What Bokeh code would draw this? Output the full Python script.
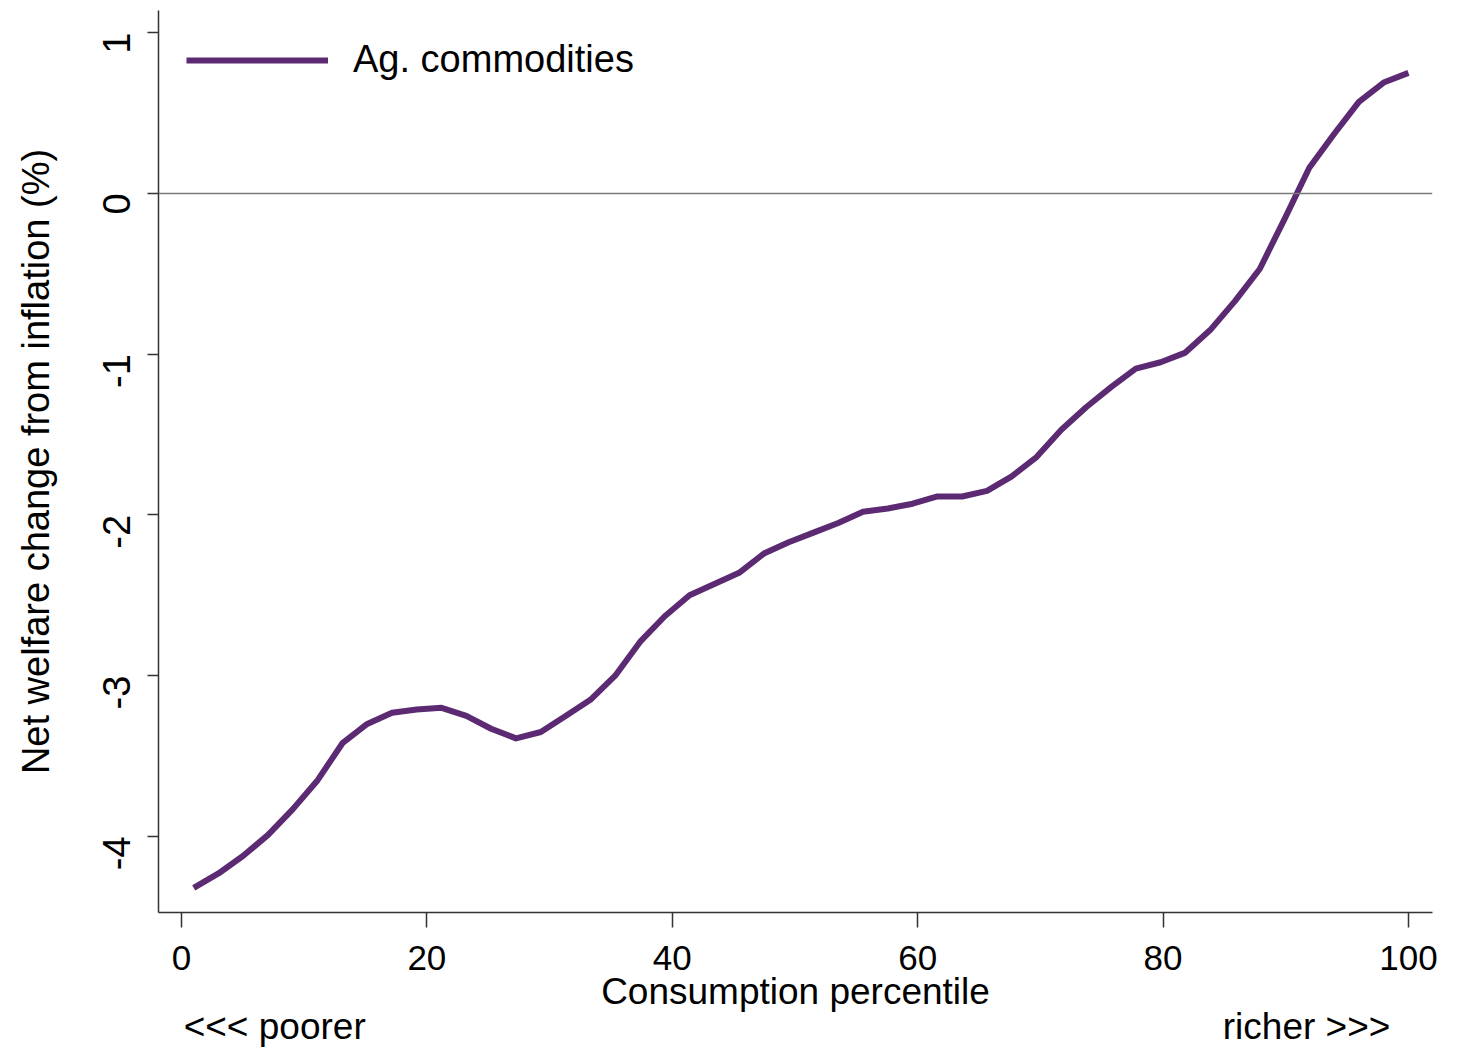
import math
from bokeh.plotting import figure
from bokeh.models import Span, FixedTicker, Legend, LinearAxis
from bokeh.embed import file_html
from bokeh.resources import INLINE

# Net welfare change by consumption percentile (50 evenly spaced bins)
percentile = [1.00, 3.02, 5.04, 7.06, 9.08, 11.10, 13.12, 15.14, 17.16, 19.18,
              21.20, 23.22, 25.24, 27.27, 29.29, 31.31, 33.33, 35.35, 37.37, 39.39,
              41.41, 43.43, 45.45, 47.47, 49.49, 51.51, 53.53, 55.55, 57.57, 59.59,
              61.61, 63.63, 65.65, 67.67, 69.69, 71.71, 73.73, 75.76, 77.78, 79.80,
              81.82, 83.84, 85.86, 87.88, 89.90, 91.92, 93.94, 95.96, 97.98, 100.00]
welfare_change = [-4.32, -4.23, -4.12, -3.99, -3.83, -3.65, -3.42, -3.30, -3.23, -3.21,
                  -3.20, -3.25, -3.33, -3.39, -3.35, -3.25, -3.15, -3.00, -2.79, -2.63,
                  -2.50, -2.43, -2.36, -2.24, -2.17, -2.11, -2.05, -1.98, -1.96, -1.93,
                  -1.885, -1.885, -1.85, -1.76, -1.64, -1.47, -1.33, -1.205, -1.09, -1.05,
                  -0.99, -0.85, -0.67, -0.47, -0.16, 0.16, 0.37, 0.57, 0.69, 0.75]
x_ticks = [0, 20, 40, 60, 80, 100]
y_ticks = [-4, -3, -2, -1, 0, 1]
direction_labels = ["<<< poorer", "richer >>>"]
direction_at = [7.6, 91.7]

FONT = "Liberation Sans"
PURPLE = "#5c2a72"
AXIS = "#333333"

p = figure(width=1463, height=1049, output_backend="svg", toolbar_location=None,
           x_range=(-1.87, 101.96), y_range=(-4.473, 1.138),
           min_border_left=158, min_border_right=31, min_border_top=10, min_border_bottom=137)
p.outline_line_color = None
p.xgrid.grid_line_color = None
p.ygrid.grid_line_color = None
p.background_fill_color = "white"
p.border_fill_color = "white"

# zero reference line
p.add_layout(Span(location=0, dimension="width", line_color="#7a7a7a", line_width=1.5))

r = p.line(percentile, welfare_change, line_width=6, line_color=PURPLE, line_join="round")

legend = Legend(items=[("Ag. commodities", [r])], location="top_left")
legend.border_line_color = None
legend.background_fill_alpha = 0
legend.glyph_width = 142
legend.glyph_height = 30
legend.label_standoff = 25
legend.margin = 28
legend.padding = 10
legend.label_text_font = FONT
legend.label_text_font_size = "38px"
legend.label_text_color = "black"
p.add_layout(legend)

for ax in (p.xaxis[0], p.yaxis[0]):
    ax.axis_line_color = AXIS
    ax.axis_line_width = 1.5
    ax.major_tick_line_color = AXIS
    ax.major_tick_line_width = 1.5
    ax.major_tick_in = 0
    ax.minor_tick_line_color = None
    ax.major_label_text_font = FONT
    ax.major_label_text_color = "black"
    ax.axis_label_text_font = FONT
    ax.axis_label_text_font_style = "normal"
    ax.axis_label_text_color = "black"

p.xaxis.ticker = FixedTicker(ticks=x_ticks)
p.xaxis.major_tick_out = 15
p.xaxis.major_label_text_font_size = "35px"
p.xaxis.major_label_standoff = 18
p.xaxis.axis_label = "Consumption percentile"
p.xaxis.axis_label_text_font_size = "37px"
p.xaxis.axis_label_standoff = -2

p.yaxis.ticker = FixedTicker(ticks=y_ticks)
p.yaxis.major_label_overrides = {t: str(t) for t in y_ticks}
p.yaxis.major_tick_out = 11
p.yaxis.major_label_orientation = math.pi / 2
p.yaxis.major_label_text_font_size = "38px"
p.yaxis.major_label_standoff = 31
p.yaxis.axis_label = "Net welfare change from inflation (%)"
p.yaxis.axis_label_text_font_size = "38px"
p.yaxis.axis_label_standoff = 30

# direction hints: a second, bare axis under the percentile axis
hint_axis = LinearAxis(ticker=FixedTicker(ticks=direction_at),
                       major_label_overrides=dict(zip(direction_at, direction_labels)))
hint_axis.axis_line_color = None
hint_axis.major_tick_line_color = None
hint_axis.minor_tick_line_color = None
hint_axis.major_tick_in = 0
hint_axis.major_tick_out = 0
hint_axis.major_label_standoff = -9
hint_axis.major_label_text_font = FONT
hint_axis.major_label_text_font_size = "37px"
hint_axis.major_label_text_color = "black"
p.add_layout(hint_axis, "below")

open("out.html", "w").write(file_html(p, INLINE))
